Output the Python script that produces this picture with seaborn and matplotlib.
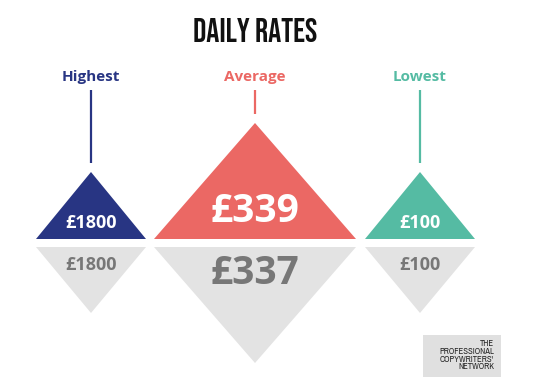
import matplotlib
matplotlib.use("Agg")
import matplotlib.pyplot as plt
import seaborn as sns
from matplotlib import font_manager as fm
from matplotlib.patches import Polygon, Rectangle

# ---- data ----
categories = ["Highest", "Average", "Lowest"]
top_values = [1800, 339, 100]
bottom_values = [1800, 337, 100]
title = "DAILY RATES"
logo_lines = ["THE", "PROFESSIONAL", "COPYWRITERS'", "NETWORK"]

# ---- styles / layout ----
colors = ["#283583", "#EB6864", "#55BBA3"]
grey_fill = "#E3E3E3"
grey_text = "#777777"
centers = [91, 255, 420]
half_w = [55, 101, 55]
up_h = [67, 116, 67]
down_h = [66, 116, 66]
line_end = [163, 114, 163]
val_sizes = [13, 28, 13]

sns.set_theme(style="white")
names = {f.name for f in fm.fontManager.ttflist}


def pick(cands):
    for c in cands:
        if c in names:
            return c
    return "DejaVu Sans"


title_font = pick(["Bebas Neue", "Oswald", "Anton", "Fira Sans Extra Condensed", "Barlow Condensed"])
main = pick(["Open Sans", "Noto Sans"])
logo_font = pick(["Archivo Narrow", "Roboto Condensed", "Barlow Condensed"])
plt.rcParams["font.family"] = [main, "DejaVu Sans"]

fig = plt.figure(figsize=(5.45, 3.84), dpi=100)
ax = fig.add_axes([0, 0, 1, 1])
ax.set_xlim(0, 545)
ax.set_ylim(384, 0)
ax.axis("off")

ax.text(255, 30, title, ha="center", va="center", fontsize=23.5,
        fontweight="bold", family=[title_font, "DejaVu Sans"], color="#111111")

base_y = 239
top_y = 247
for i, cat in enumerate(categories):
    cx, hw, c = centers[i], half_w[i], colors[i]
    ax.text(cx, 77, cat, ha="center", va="center", fontsize=11,
            fontweight="bold", color=c)
    ax.plot([cx, cx], [90, line_end[i]], color=c, lw=1.6, solid_capstyle="butt")
    ax.add_patch(Polygon([[cx - hw, base_y], [cx + hw, base_y], [cx, base_y - up_h[i]]],
                         closed=True, facecolor=c, edgecolor="none"))
    ax.add_patch(Polygon([[cx - hw, top_y], [cx + hw, top_y], [cx, top_y + down_h[i]]],
                         closed=True, facecolor=grey_fill, edgecolor="none"))
    big = val_sizes[i] > 20
    ax.text(cx, 212 if big else 223, f"£{top_values[i]}", ha="center", va="center",
            fontsize=val_sizes[i], fontweight="bold", color="white")
    ax.text(cx, 274 if big else 265, f"£{bottom_values[i]}", ha="center", va="center",
            fontsize=val_sizes[i], fontweight="bold", color=grey_text)

ax.add_patch(Rectangle((423, 335), 78, 42, facecolor="#E0E0E0", edgecolor="none"))
for j, ln in enumerate(logo_lines):
    ax.text(494, 344 + j * 7.6, ln, ha="right", va="center", fontsize=6.2,
            family=[logo_font, "DejaVu Sans"], color="#222222")

fig.savefig("out.png", dpi=100, facecolor="white")
